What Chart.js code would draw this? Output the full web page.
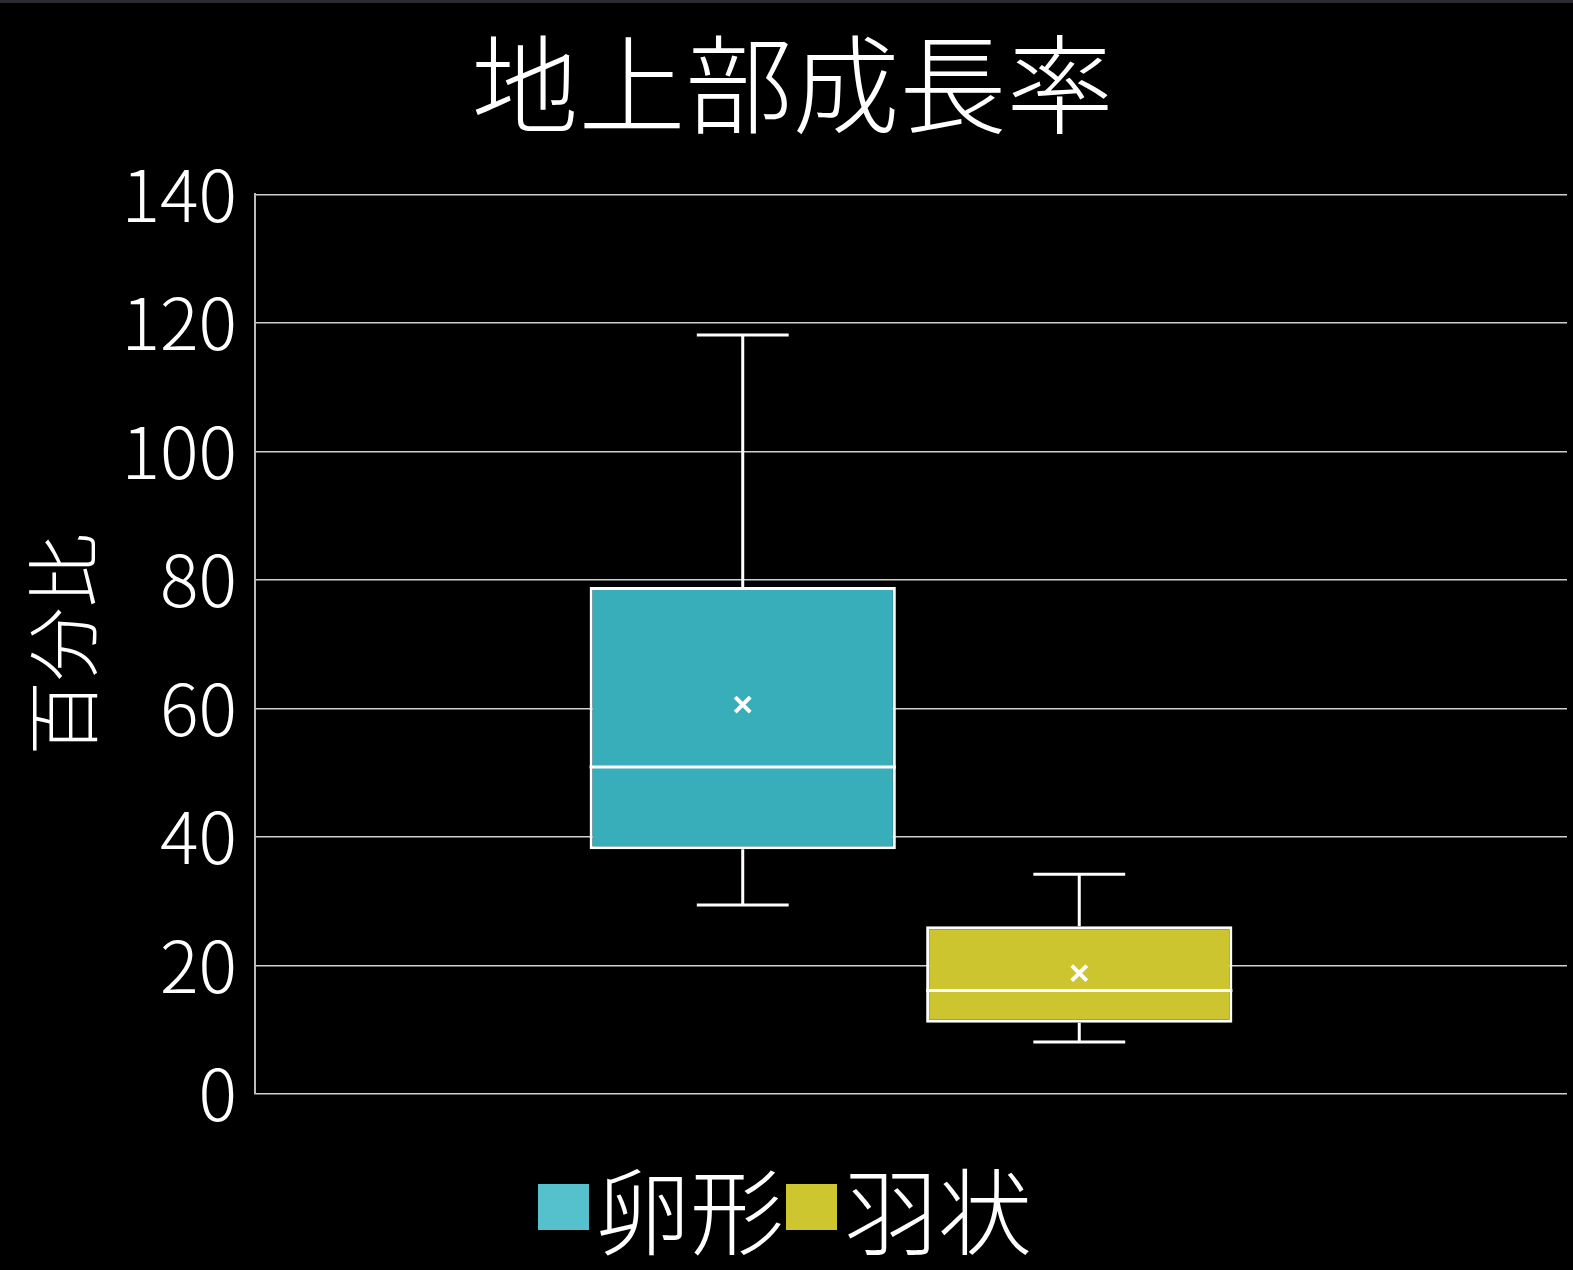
<!DOCTYPE html>
<html lang="ja">

<head>
    <meta charset="UTF-8">
    <title>地上部成長率</title>
    <style>
        html,
        body {
            margin: 0;
            padding: 0;
            background: #000;
        }

        body {
            width: 1573px;
            height: 1270px;
            position: relative;
            overflow: hidden;
            font-family: 'Noto Sans CJK JP', sans-serif;
        }

        .top-strip {
            position: absolute;
            left: 0;
            top: 0;
            width: 100%;
            height: 3px;
            background: #2b2b31;
        }

        #chart {
            position: absolute;
            left: 0;
            top: 0;
        }

        .legend {
            position: absolute;
            left: 538px;
            top: 1151px;
            display: flex;
            align-items: center;
            color: #fff;
            font-size: 94px;
            font-weight: 300;
            line-height: 1.2;
        }

        .legend-item {
            display: flex;
            align-items: center;
            margin-right: 2px;
        }

        .legend-box {
            width: 51px;
            height: 46px;
            margin-right: 7px;
        }
    </style>
    <script src="https://cdn.jsdelivr.net/npm/chart.js"></script>
</head>

<body>
    <div class="top-strip"></div>
    <canvas id="chart" width="1573" height="1270"></canvas>
    <div class="legend" id="legend"></div>

    <script>
        // box plot values, one entry per category
        const categories = ['卵形', '羽状'];
        const lowValues = [29.4, 8.1];
        const q1Values = [38.1, 11.1];
        const medianValues = [50.9, 16.1];
        const q3Values = [78.9, 26.1];
        const highValues = [118.1, 34.2];
        const meanValues = [60.6, 18.8];

        const boxColors = ['#38aeba', '#cdc530'];
        const legendColors = ['#55c1cc', '#cdc62f'];

        const yMin = 0;
        const yMax = 140;
        const yStep = 20;

        Chart.defaults.font.family = "'Noto Sans CJK JP', sans-serif";
        Chart.defaults.color = '#fff';

        // whiskers, median line and mean cross drawn on top of the floating bars
        const boxWhiskers = {
            id: 'boxWhiskers',
            afterDatasetsDraw(chart) {
                const ctx = chart.ctx;
                const y = chart.scales.y;
                ctx.save();
                ctx.strokeStyle = '#fff';
                chart.data.datasets.forEach((ds, i) => {
                    const bar = chart.getDatasetMeta(i).data[0];
                    const cx = bar.x;
                    const half = bar.width / 2;
                    const cap = bar.width * 0.15;
                    const yLow = y.getPixelForValue(lowValues[i]);
                    const yQ1 = y.getPixelForValue(q1Values[i]);
                    const yMed = y.getPixelForValue(medianValues[i]);
                    const yQ3 = y.getPixelForValue(q3Values[i]);
                    const yHigh = y.getPixelForValue(highValues[i]);
                    const yMean = y.getPixelForValue(meanValues[i]);

                    ctx.lineWidth = 3;
                    ctx.beginPath();
                    // upper whisker
                    ctx.moveTo(cx, yQ3);
                    ctx.lineTo(cx, yHigh);
                    ctx.moveTo(cx - cap, yHigh);
                    ctx.lineTo(cx + cap, yHigh);
                    // lower whisker
                    ctx.moveTo(cx, yQ1);
                    ctx.lineTo(cx, yLow);
                    ctx.moveTo(cx - cap, yLow);
                    ctx.lineTo(cx + cap, yLow);
                    // median
                    ctx.moveTo(cx - half, yMed);
                    ctx.lineTo(cx + half, yMed);
                    ctx.stroke();

                    // mean marker
                    const m = 7.5;
                    ctx.lineWidth = 4;
                    ctx.beginPath();
                    ctx.moveTo(cx - m, yMean - m);
                    ctx.lineTo(cx + m, yMean + m);
                    ctx.moveTo(cx + m, yMean - m);
                    ctx.lineTo(cx - m, yMean + m);
                    ctx.stroke();
                });
                ctx.restore();
            }
        };

        new Chart(document.getElementById('chart'), {
            type: 'bar',
            data: {
                labels: [''],
                datasets: categories.map((name, i) => ({
                    label: name,
                    data: [[q1Values[i], q3Values[i]]],
                    backgroundColor: boxColors[i],
                    borderColor: '#fff',
                    borderWidth: 3,
                    borderSkipped: false,
                    categoryPercentage: 0.513,
                    barPercentage: 0.91
                }))
            },
            options: {
                responsive: false,
                animation: false,
                layout: {
                    padding: { left: 18, right: 6, top: 0, bottom: 168 }
                },
                plugins: {
                    legend: { display: false },
                    tooltip: { enabled: false },
                    title: {
                        display: true,
                        text: '地上部成長率',
                        color: '#fff',
                        font: { size: 107, weight: '300' },
                        padding: { top: 20, bottom: 46 }
                    }
                },
                scales: {
                    x: {
                        grid: { display: false },
                        border: { display: false },
                        ticks: { display: false }
                    },
                    y: {
                        min: yMin,
                        max: yMax,
                        ticks: {
                            stepSize: yStep,
                            color: '#fff',
                            padding: 18,
                            font: { size: 72, weight: '300' }
                        },
                        grid: {
                            color: '#d0d0d0',
                            lineWidth: 1.5,
                            drawTicks: false
                        },
                        border: { color: '#bdbdbd', width: 2 },
                        title: {
                            display: true,
                            text: '百分比',
                            color: '#fff',
                            padding: 0,
                            font: { size: 74, weight: '300' }
                        },
                        afterFit(scale) {
                            scale.width = 237;
                        }
                    }
                }
            },
            plugins: [boxWhiskers]
        });

        // legend below the plot
        const legend = document.getElementById('legend');
        categories.forEach((name, i) => {
            const item = document.createElement('div');
            item.className = 'legend-item';
            const box = document.createElement('span');
            box.className = 'legend-box';
            box.style.background = legendColors[i];
            const text = document.createElement('span');
            text.textContent = name;
            item.appendChild(box);
            item.appendChild(text);
            legend.appendChild(item);
        });
    </script>
</body>

</html>
